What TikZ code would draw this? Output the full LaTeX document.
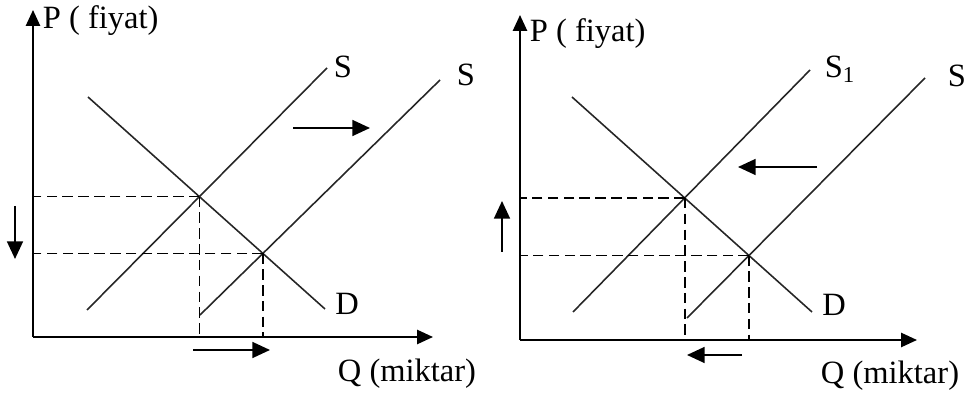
\documentclass[tikz,border=0pt]{standalone}
\usepackage{fontspec}
\setmainfont{Liberation Serif}
\usetikzlibrary{arrows.meta}

\begin{document}
\begin{tikzpicture}[
    axis/.style={line width=1.2pt, -{Triangle[length=9pt,width=8pt]}},
    curve/.style={line width=0.9pt, black!85},
    guide/.style={line width=0.9pt, dash pattern=on 6pt off 3pt},
    moveArrow/.style={line width=1.1pt, -{Triangle[length=10pt,width=9pt]}},
    lbl/.style={font=\fontsize{18.5}{20}\selectfont, inner sep=2pt}
]
    \useasboundingbox (0,0) rectangle (19.3,7.88);

    % ---------- left graph: supply increases ----------
    \coordinate (oL) at (0.66,1.14);
    \draw[axis] (oL) -- (0.66,7.68);
    \draw[axis] (oL) -- (8.66,1.14);
    \node[lbl, anchor=west] (pL) at (0.78,7.46) {P ( fiyat)};
    \node[lbl] (qL) at (8.14,0.40) {Q (miktar)};

    % demand and the two supply curves
    \coordinate (dLa) at (1.76,5.94);  \coordinate (dLb) at (6.50,1.70);
    \coordinate (sLa) at (1.74,1.68);  \coordinate (sLb) at (6.54,6.52);
    \coordinate (tLa) at (4.00,1.58);  \coordinate (tLb) at (8.80,6.28);
    \draw[curve] (dLa) -- (dLb);
    \draw[curve] (sLa) -- (sLb);
    \draw[curve] (tLa) -- (tLb);
    \node[lbl] (sL) at (6.86,6.54) {S};
    \node[lbl] (tL) at (9.32,6.38) {S};
    \node[lbl] (dL) at (6.94,1.80) {D};

    % equilibria
    \coordinate (eLa) at (intersection of dLa--dLb and sLa--sLb);
    \coordinate (eLb) at (intersection of dLa--dLb and tLa--tLb);
    \draw[guide] (eLa) -- (oL |- eLa);
    \draw[guide] (eLa) -- (eLa |- oL);
    \draw[guide] (eLb) -- (oL |- eLb);
    \draw[guide] (eLb) -- (eLb |- oL);

    % shift arrows
    \draw[moveArrow] (5.86,5.32) -- (7.40,5.32);
    \draw[moveArrow] (0.30,3.76) -- (0.30,2.70);
    \draw[moveArrow] (3.86,0.88) -- (5.40,0.88);

    % ---------- right graph: supply decreases ----------
    \coordinate (oR) at (10.40,1.08);
    \draw[axis] (oR) -- (10.40,7.58);
    \draw[axis] (oR) -- (18.34,1.08);
    \node[lbl, anchor=west] (pR) at (10.52,7.20) {P ( fiyat)};
    \node[lbl] (qR) at (17.80,0.36) {Q (miktar)};

    \coordinate (dRa) at (11.44,5.94); \coordinate (dRb) at (16.24,1.64);
    \coordinate (sRa) at (11.46,1.64); \coordinate (sRb) at (16.20,6.48);
    \coordinate (tRa) at (13.74,1.52); \coordinate (tRb) at (18.50,6.32);
    \draw[curve] (dRa) -- (dRb);
    \draw[curve] (sRa) -- (sRb);
    \draw[curve] (tRa) -- (tRb);
    \node[lbl] (sR) at (16.80,6.50) {S\textsubscript{1}};
    \node[lbl] (tR) at (19.14,6.36) {S};
    \node[lbl] (dR) at (16.68,1.78) {D};

    \coordinate (eRa) at (intersection of dRa--dRb and sRa--sRb);
    \coordinate (eRb) at (intersection of dRa--dRb and tRa--tRb);
    \draw[guide] (eRa) -- (oR |- eRa);
    \draw[guide] (eRa) -- (eRa |- oR);
    \draw[guide] (eRb) -- (oR |- eRb);
    \draw[guide] (eRb) -- (eRb |- oR);

    \draw[moveArrow] (16.34,4.54) -- (14.76,4.54);
    \draw[moveArrow] (10.04,2.84) -- (10.04,3.86);
    \draw[moveArrow] (14.84,0.78) -- (13.74,0.78);

\end{tikzpicture}
\end{document}
